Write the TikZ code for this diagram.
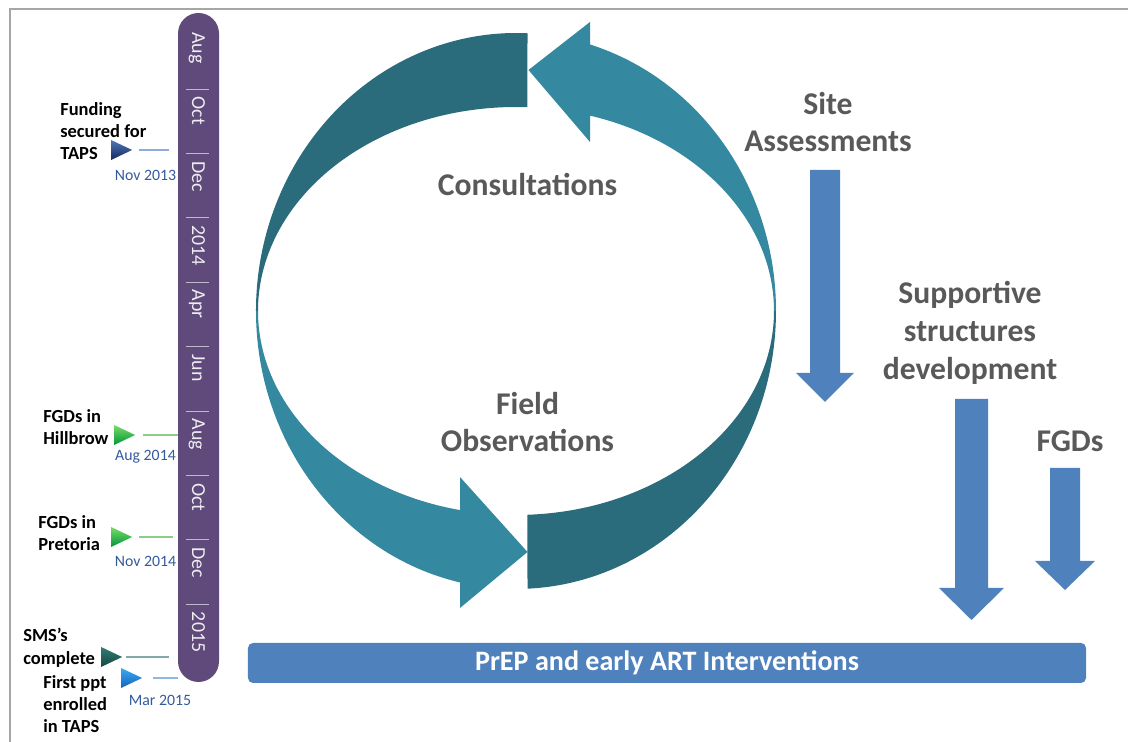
\documentclass[tikz,border=0pt]{standalone}
\usepackage{fontspec}
\setmainfont{Carlito}
\usetikzlibrary{shapes.geometric,positioning}

\definecolor{tlpurple}{RGB}{95,74,123}
\definecolor{cycdark}{RGB}{42,107,124}
\definecolor{cyclight}{RGB}{52,137,160}
\definecolor{stepblue}{RGB}{79,129,189}
\definecolor{labgray}{RGB}{89,89,89}
\definecolor{datblue}{RGB}{52,90,155}
\definecolor{framegray}{RGB}{166,166,166}
% marker colours
\definecolor{navytop}{RGB}{80,120,180}
\definecolor{navybot}{RGB}{20,40,95}
\definecolor{greentop}{RGB}{120,220,100}
\definecolor{greenbot}{RGB}{0,150,60}
\definecolor{tealtop}{RGB}{50,125,115}
\definecolor{tealbot}{RGB}{20,70,70}
\definecolor{skytop}{RGB}{60,170,240}
\definecolor{skybot}{RGB}{20,100,190}
\definecolor{navyline}{RGB}{143,170,220}
\definecolor{greenline}{RGB}{140,205,140}
\definecolor{tealline}{RGB}{130,170,170}
\definecolor{skyline}{RGB}{140,185,230}

\tikzset{
  biglabel/.style={font=\fontsize{18}{21.5}\selectfont\bfseries, text=labgray, align=center, inner sep=0pt},
  eventtext/.style={font=\fontsize{10.5}{12.7}\selectfont\bfseries, align=left, anchor=north west, inner sep=0pt},
  datetext/.style={font=\fontsize{9}{10}\selectfont, text=datblue, inner sep=0pt},
  monthtext/.style={font=\fontsize{11.3}{12}\selectfont, text=white!90!tlpurple, rotate=-90, anchor=base west, inner sep=0pt},
  evmark/.style={isosceles triangle, isosceles triangle stretches, minimum width=4mm, minimum height=4.2mm, inner sep=0pt, anchor=apex},
  bartick/.style={white!60!tlpurple, line width=0.5pt},
  evline/.style={line width=0.8pt},
}

\begin{document}
\begin{tikzpicture}[x=0.2mm,y=0.2mm]
  \useasboundingbox (0,0) rectangle (1128,742);
  % frame
  \draw[framegray, line width=0.4mm] (10,0) -- (10,732.5) -- (1128,732.5);

  % timeline bar
  \fill[tlpurple, rounded corners=4.1mm] (178,60) rectangle (219,729);
  \foreach \i in {1,...,9}
    \draw[bartick] (186,{742-89-64.4*(\i-1)}) -- ++(23,0);
  \foreach \m [count=\i from 0] in {Aug,Oct,Dec,2014,Apr,Jun,Aug,Oct,Dec,2015}
    \node[monthtext] (mon\i) at (192,{742-32-64.4*\i}) {\m};

  % events
  \node[eventtext] (fund) at (60,640) {Funding\\secured for\\TAPS};
  \node[evmark, top color=navytop, bottom color=navybot] (mfund) at (133,592) {};
  \coordinate (efund) at (169,592);
  \draw[evline, navyline, shorten <=1.2mm] (mfund.apex) -- (efund);
  \node[datetext] (dfund) at (145.5,567) {Nov 2013};

  \node[eventtext] (hill) at (43,333) {FGDs in\\Hillbrow};
  \node[evmark, top color=greentop, bottom color=greenbot] (mhill) at (136,307) {};
  \coordinate (ehill) at (178,307);
  \draw[evline, greenline, shorten <=1.4mm] (mhill.apex) -- (ehill);
  \node[datetext] (dhill) at (145.5,285) {Aug 2014};

  \node[eventtext] (pret) at (38,227) {FGDs in\\Pretoria};
  \node[evmark, top color=greentop, bottom color=greenbot] (mpret) at (133,205) {};
  \coordinate (epret) at (173,205);
  \draw[evline, greenline, shorten <=1.2mm] (mpret.apex) -- (epret);
  \node[datetext] (dpret) at (145.5,181) {Nov 2014};

  \node[eventtext] (sms) at (23,114) {SMS’s\\complete};
  \node[evmark, top color=tealtop, bottom color=tealbot] (msms) at (123,85) {};
  \coordinate (esms) at (169,85);
  \draw[evline, tealline, shorten <=0.6mm] (msms.apex) -- (esms);

  \node[eventtext] (first) at (43,67) {First ppt\\enrolled\\in TAPS};
  \node[evmark, top color=skytop, bottom color=skybot] (mfirst) at (143,64) {};
  \coordinate (efirst) at (178,64);
  \draw[evline, skyline, shorten <=2mm] (mfirst.apex) -- (efirst);
  \node[datetext] (dfirst) at (160,42) {Mar 2015};

  % cycle arrows
  \fill[cycdark] (527.5,708.7) arc[start angle=87.46, end angle=180, x radius=260, y radius=278]
    -- (258,431) arc[start angle=180, end angle=87.45, x radius=258, y radius=204] -- cycle;
  \fill[cyclight] (776,431) arc[start angle=0, end angle=73.46, x radius=260, y radius=278]
    -- (590,720) -- (528.5,672) -- (590,600) -- (590,626.4)
    arc[start angle=73.33, end angle=0, x radius=258, y radius=204] -- cycle;
  \fill[cyclight] (256,431) arc[start angle=180, end angle=257.56, x radius=260, y radius=278]
    -- (460,134) -- (527.5,190) -- (460,265) -- (460,231.9)
    arc[start angle=257.46, end angle=180, x radius=258, y radius=204] -- cycle;
  \fill[cycdark] (527.5,153.3) arc[start angle=272.54, end angle=360, x radius=260, y radius=278]
    -- (774,431) arc[start angle=0, end angle=-87.45, x radius=258, y radius=204] -- cycle;
  \node[biglabel] (consult) at (527.5,557) {Consultations};
  \node[biglabel] (field) at (527.5,320) {Field\\Observations};

  % steps on the right
  \node[biglabel] (site) at (828,620) {Site\\Assessments};
  \fill[stepblue] (810,572) -- (840,572) -- (840,369) -- (854,369) -- (825,340) -- (796,369) -- (810,369) -- cycle;
  \node[biglabel] (supp) at (970,409) {Supportive\\structures\\development};
  \fill[stepblue] (955,343) -- (988,343) -- (988,154) -- (1004,154) -- (971.5,122) -- (939,154) -- (955,154) -- cycle;
  \node[biglabel] (fgds) at (1070,301) {FGDs};
  \fill[stepblue] (1050,274) -- (1080,274) -- (1080,181) -- (1095,181) -- (1065,152) -- (1035,181) -- (1050,181) -- cycle;

  % interventions bar
  \node[fill=stepblue, rounded corners=1mm, minimum width=167.6mm, minimum height=8mm, inner sep=0pt,
        text=white, font=\fontsize{16}{18}\selectfont\bfseries] (prep) at (667,79) {PrEP and early ART Interventions};
\end{tikzpicture}
\end{document}
